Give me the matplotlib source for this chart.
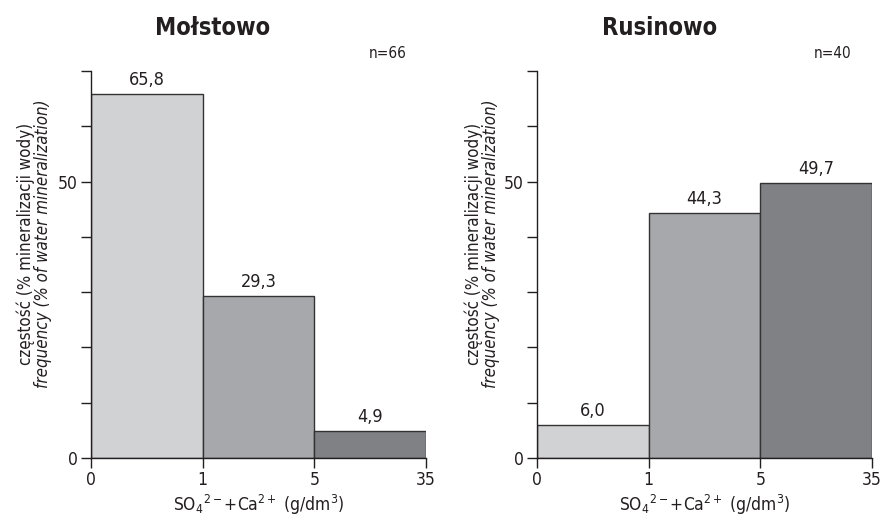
import matplotlib
matplotlib.use("Agg")
import matplotlib.pyplot as plt
from matplotlib import font_manager

entries = font_manager.fontManager.ttflist
names = {f.name for f in entries}
has_dejavu_cond = any(f.name == 'DejaVu Sans' and 'condensed' in str(f.stretch).lower()
                      or 'DejaVuSansCondensed' in f.fname for f in entries)
if 'Liberation Sans Narrow' in names:
    main_font, stretch = 'Liberation Sans Narrow', 'normal'
elif has_dejavu_cond:
    main_font, stretch = 'DejaVu Sans', 'condensed'
else:
    main_font, stretch = 'Liberation Sans', 'normal'

plt.rcParams['font.family'] = [main_font, 'DejaVu Sans']
plt.rcParams['font.stretch'] = stretch
plt.rcParams['mathtext.fontset'] = 'custom'
plt.rcParams['mathtext.rm'] = f'{main_font}:stretch={stretch}'
plt.rcParams['mathtext.it'] = f'{main_font}:italic:stretch={stretch}'
plt.rcParams['mathtext.bf'] = f'{main_font}:bold:stretch={stretch}'

# ---- data ----
bin_edges_labels = ["0", "1", "5", "35"]
sites = ["Mołstowo", "Rusinowo"]
counts = ["n=66", "n=40"]
molstowo_values = [65.8, 29.3, 4.9]
rusinowo_values = [6.0, 44.3, 49.7]
value_labels_molstowo = ["65,8", "29,3", "4,9"]
value_labels_rusinowo = ["6,0", "44,3", "49,7"]
bar_colors = ["#d1d2d4", "#a7a8ab", "#808184"]
ylabel_pl = "częstość (% mineralizacji wody)"
ylabel_en = "frequency (% of water mineralization)"
xlabel = "SO$_4{}^{2-}$+Ca$^{2+}$ (g/dm$^3$)"

W, H = 883, 521
fig = plt.figure(figsize=(W / 100, H / 100), dpi=100)

def fx(px):
    return px / W

def fy(py):
    return 1 - py / H

axes_left_px = [91, 537]
ax_w_px = 335
ax_bottom_px, ax_top_px = 458, 71
title_x_px = [213, 660]
n_x_px = [388, 833]
ylabel_x_px = [(26, 43), (474, 491)]

series = [(molstowo_values, value_labels_molstowo), (rusinowo_values, value_labels_rusinowo)]
txt = "#231f20"

for i in range(2):
    x0 = axes_left_px[i]
    ax = fig.add_axes([fx(x0), fy(ax_bottom_px), ax_w_px / W, (ax_bottom_px - ax_top_px) / H])
    vals, labs = series[i]
    pos = [0.5, 1.5, 2.5]
    ax.bar(pos, vals, width=1.0, color=bar_colors, edgecolor="#333333", linewidth=1.0)
    for p, v, l in zip(pos, vals, labs):
        ax.text(p, v + 0.9, l, ha="center", va="bottom", fontsize=13, color=txt)
    ax.set_xlim(0, 3)
    ax.set_ylim(0, 70)
    ax.set_xticks([0, 1, 2, 3])
    ax.set_xticklabels(bin_edges_labels)
    ax.set_yticks(range(0, 71, 10))
    ax.set_yticklabels(["0", "", "", "", "", "50", "", ""])
    for s in ["top", "right"]:
        ax.spines[s].set_visible(False)
    for s in ["left", "bottom"]:
        ax.spines[s].set_color(txt)
        ax.spines[s].set_linewidth(1.0)
    ax.tick_params(axis="both", direction="out", length=7.5, width=1.0,
                   color=txt, labelsize=12.5, labelcolor=txt, pad=2)
    ax.set_xlabel(xlabel, fontsize=12.5, color=txt, labelpad=3)
    ax.margins(0)
    fig.text(fx(title_x_px[i]), fy(28), sites[i], ha="center", va="center",
             fontsize=17, fontweight="bold", color=txt)
    fig.text(fx(n_x_px[i]), fy(53), counts[i], ha="center", va="center",
             fontsize=11, color=txt)
    fig.text(fx(ylabel_x_px[i][0]), fy(244), ylabel_pl, rotation=90, ha="center",
             va="center", fontsize=12.2, color=txt)
    fig.text(fx(ylabel_x_px[i][1]), fy(244), ylabel_en, rotation=90, ha="center",
             va="center", fontsize=12.2, style="italic", color=txt)

fig.savefig("out.png", dpi=100)
